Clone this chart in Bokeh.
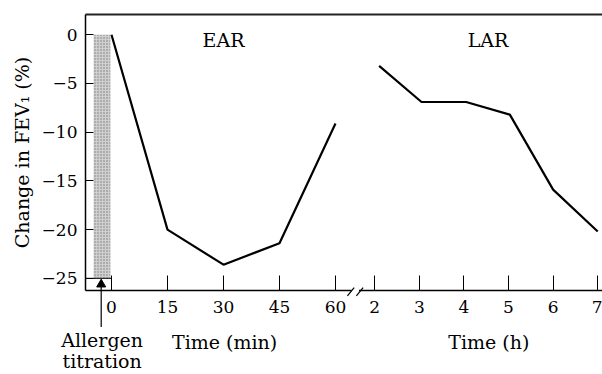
from bokeh.plotting import figure
from bokeh.models import LinearAxis, FixedTicker, Range1d
from bokeh.core.properties import value
from bokeh.embed import file_html
from bokeh.resources import INLINE

# ---- data ----
ear_min = [0, 15, 30, 45, 60]
ear_fev = [0.0, -20.0, -23.6, -21.4, -9.1]
lar_h = [2.1, 3.05, 4.05, 5.03, 6.0, 7.0]
lar_fev = [-3.2, -6.9, -6.9, -8.2, -15.9, -20.2]
min_ticks = [0, 15, 30, 45, 60]
hour_ticks = [2, 3, 4, 5, 6, 7]
y_ticks = [0, -5, -10, -15, -20, -25]
titration_start = -4.8   # minutes (shaded period)
titration_end = -0.3

# hours are placed after a break on the same axis
H0 = 70.5
HS = 11.95
def hpos(h):
    return H0 + (h - 2) * HS

FONT = "DejaVu Serif"

p = figure(width=602, height=374, output_backend="svg", toolbar_location=None,
           x_range=Range1d(-6.965, 131.53), y_range=Range1d(-26.25, 2.08),
           min_border_left=85, min_border_right=0, min_border_top=14, min_border_bottom=84)
p.grid.visible = False
p.outline_line_color = None
p.background_fill_color = "white"
p.border_fill_color = "white"

# bottom axis
xa = p.xaxis[0]
xt = min_ticks + [hpos(h) for h in hour_ticks]
xa.ticker = FixedTicker(ticks=xt)
ov = {t: str(t) for t in min_ticks}
ov.update({hpos(h): str(h) for h in hour_ticks})
xa.major_label_overrides = ov
xa.major_tick_in = 15
xa.major_tick_out = 0
xa.minor_tick_in = 0
xa.minor_tick_out = 0
xa.major_tick_line_color = "black"
xa.major_tick_line_width = 1
xa.axis_line_color = "black"
xa.axis_line_width = 1.5
xa.major_label_standoff = 10
xa.major_label_text_font = FONT
xa.major_label_text_font_size = "17px"
xa.major_label_text_color = "black"

# left axis
ya = p.yaxis[0]
ya.ticker = FixedTicker(ticks=y_ticks)
ya.major_label_overrides = {t: (str(t).replace("-", "\u2212")) for t in y_ticks}
ya.major_tick_in = 8
ya.major_tick_out = 0
ya.minor_tick_in = 0
ya.minor_tick_out = 0
ya.major_tick_line_color = "black"
ya.axis_line_color = "black"
ya.axis_line_width = 1.5
ya.major_label_standoff = 8
ya.major_label_text_font = FONT
ya.major_label_text_font_size = "17px"
ya.major_label_text_color = "black"
ya.axis_label = "Change in FEV\u2081 (%)"
ya.axis_label_text_font = FONT
ya.axis_label_text_font_size = "19px"
ya.axis_label_text_font_style = "normal"
ya.axis_label_text_color = "black"
ya.axis_label_standoff = 6

# top line
top = LinearAxis(ticker=FixedTicker(ticks=[]), major_tick_in=0, major_tick_out=0,
                 minor_tick_in=0, minor_tick_out=0, major_label_text_color=None,
                 axis_line_color="#222222", axis_line_width=1.8)
p.add_layout(top, "above")

# shaded allergen titration period
p.quad(left=[titration_start], right=[titration_end], top=[0], bottom=[-25],
       fill_color="#cfcfcf", line_color=None,
       hatch_pattern="dot", hatch_color="#7a7a7a", hatch_scale=3, hatch_weight=1)
# small box under the shading
p.line(x=[-6.965, 0, 0], y=[-25, -25, -26.25], line_color="black", line_width=1)

# data lines
p.line(ear_min, ear_fev, line_color="black", line_width=2.2)
p.line([hpos(h) for h in lar_h], lar_fev, line_color="black", line_width=2.2)

# axis break
p.quad(left=[64.3], right=[66.3], top=[-25.9], bottom=[-26.7], fill_color="white",
       line_color=None, level="overlay")
p.segment(x0=[63.2, 65.6], y0=[-26.8, -26.8], x1=[65.0, 67.4], y1=[-25.95, -25.95],
          line_color="black", line_width=1.2, level="overlay")

# texts
txt_x = [30, hpos(4.54), 30.3, hpos(4.56), -2.5, -2.5]
txt_y = [-0.5, -0.5, -31.5, -31.5, -31.3, -33.45]
txt = ["EAR", "LAR", "Time (min)", "Time (h)", "Allergen", "titration"]
p.text(x=txt_x, y=txt_y, text=txt, text_align="center", text_baseline="alphabetic",
       text_font=value(FONT), text_font_size=value("19px"), text_color="black",
       level="overlay")

# arrow for allergen titration
p.segment(x0=[-2.76], y0=[-30.0], x1=[-2.76], y1=[-25.9], line_color="black",
          line_width=1.2, level="overlay")
p.scatter(x=[-2.76], y=[-25.62], marker="triangle", size=9, fill_color="black",
          line_color="black", level="overlay")

open("out.html", "w").write(file_html(p, INLINE))
